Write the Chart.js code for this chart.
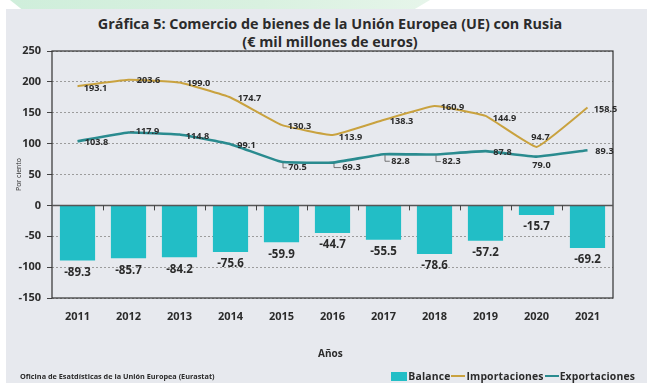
<!DOCTYPE html>
<html lang="es">
<head>
<meta charset="utf-8">
<title>Comercio de bienes UE - Rusia</title>
<script src="https://cdn.jsdelivr.net/npm/chart.js@4.4.1/dist/chart.umd.min.js"></script>
<style>
  html, body {
    margin: 0;
    padding: 0;
    width: 647px;
    height: 383px;
    overflow: hidden;
    background: #ffffff;
    font-family: "Open Sans", "Noto Sans", sans-serif;
    color: #2b2b2b;
  }
  /* soft green band along the top edge */
  .band {
    position: absolute;
    left: 10px;
    top: 0;
    width: 420px;
    height: 10px;
    background: linear-gradient(90deg, #cfeedb 0%, #d9f1e0 60%, #e6f5ea 100%);
    clip-path: polygon(0 0, 100% 0, 96% 100%, 3% 100%);
  }
  .panel {
    position: absolute;
    left: 6px;
    top: 9px;
    right: 0;
    bottom: 0;
    background: #e7e9ee;
  }
  .wrap {
    position: absolute;
    left: 0;
    top: 0;
    width: 647px;
    height: 383px;
  }
  .heading {
    position: absolute;
    left: 0;
    width: 660px;
    top: 15px;
    text-align: center;
    font-weight: 700;
    font-size: 14.4px;
    line-height: 18px;
  }
  .xtitle {
    position: absolute;
    left: 318px;
    top: 346px;
    font-weight: 700;
    font-size: 10px;
  }
  .source {
    position: absolute;
    left: 20px;
    top: 371px;
    font-weight: 700;
    font-size: 7.3px;
  }
  .legend {
    position: absolute;
    right: 12px;
    top: 369px;
    display: flex;
    align-items: center;
    font-weight: 700;
    font-size: 10.4px;
    letter-spacing: 0.15px;
    white-space: nowrap;
  }
  .legend .box {
    display: inline-block;
    width: 16px;
    height: 9px;
    margin-right: 1px;
    background: #22bec6;
  }
  .legend .line {
    display: inline-block;
    width: 14px;
    height: 2px;
    margin: 0 1px;
  }
</style>
</head>
<body>
<div class="band"></div>
<div class="panel"></div>
<div class="heading">Gráfica 5: Comercio de bienes de la Unión Europea (UE) con Rusia<br>(€ mil millones de euros)</div>
<div class="wrap"><canvas id="trade-chart" width="647" height="383"></canvas></div>
<div class="xtitle">Años</div>
<div class="source">Oficina de Esatdísticas de la Unión Europea (Eurastat)</div>
<div class="legend">
  <span class="box"></span><span>Balance</span>
  <span class="line" style="background:#c9a23f"></span><span>Importaciones</span>
  <span class="line" style="background:#2a8b8f"></span><span>Exportaciones</span>
</div>
<script>
  // Years on the horizontal axis
  const years = ['2011', '2012', '2013', '2014', '2015', '2016', '2017', '2018', '2019', '2020', '2021'];

  // Trade balance, imports and exports (€ bn)
  const balance = [-89.3, -85.7, -84.2, -75.6, -59.9, -44.7, -55.5, -78.6, -57.2, -15.7, -69.2];
  const imports = [193.1, 203.6, 199.0, 174.7, 130.3, 113.9, 138.3, 160.9, 144.9, 94.7, 158.5];
  const exports = [103.8, 117.9, 114.8, 99.1, 70.5, 69.3, 82.8, 82.3, 87.8, 79.0, 89.3];

  // Value axis range and step
  const yMin = -150;
  const yMax = 250;
  const yStep = 50;

  // Where each value label sits relative to its point (centre offset in px)
  const importLabelShift = [[18, 2], [20, 1], [19, 1], [19, 1], [18, 1], [18, 2], [18, 1], [18, 1], [19, 2], [4, -10], [18, 2]];
  const exportLabelShift = [[19, 1], [19, -1], [18, 2], [16, 1], [16, 6], [19, 5], [17, 7], [17, 7], [17, 1], [5, 9], [17, 1]];
  // Points whose label gets a little leader line
  const exportLeaders = [1, 4, 5, 6, 7];

  const COLORS = {
    bar: '#22bec6',
    imports: '#c9a23f',
    exports: '#2a8b8f',
    text: '#2b2b2b',
    frame: '#333333',
    grid: '#9c9c9c'
  };
  const FONT = '"Open Sans", "Noto Sans", sans-serif';

  /**
   * Draws the plot frame, the zero line with its small category ticks,
   * and the value labels for bars and lines.
   */
  const overlayPlugin = {
    id: 'overlay',
    afterDatasetsDraw(chart) {
      const { ctx, chartArea: a, scales } = chart;
      const y0 = scales.y.getPixelForValue(0);
      ctx.save();

      // frame around the plot area
      ctx.strokeStyle = COLORS.frame;
      ctx.lineWidth = 1.2;
      ctx.strokeRect(a.left, a.top, a.right - a.left, a.bottom - a.top);

      // zero line
      ctx.strokeStyle = '#555555';
      ctx.lineWidth = 1.5;
      ctx.beginPath();
      ctx.moveTo(a.left, y0);
      ctx.lineTo(a.right, y0);
      ctx.stroke();

      // tick marks between categories, hanging below the zero line
      ctx.lineWidth = 1;
      ctx.strokeStyle = '#444444';
      ctx.beginPath();
      for (let i = 0; i < years.length - 1; i++) {
        const x = Math.round((scales.x.getPixelForValue(i) + scales.x.getPixelForValue(i + 1)) / 2) + 0.5;
        ctx.moveTo(x, y0);
        ctx.lineTo(x, y0 + 5);
      }
      ctx.stroke();

      ctx.fillStyle = COLORS.text;
      ctx.textAlign = 'center';
      ctx.textBaseline = 'middle';

      // bar labels below the bar ends
      ctx.font = 'bold 11.5px ' + FONT;
      chart.getDatasetMeta(0).data.forEach((bar, i) => {
        ctx.fillText(balance[i].toFixed(1), bar.x, bar.y + 12);
      });

      // line labels
      ctx.font = 'bold 9.2px ' + FONT;
      chart.getDatasetMeta(1).data.forEach((pt, i) => {
        const [dx, dy] = importLabelShift[i];
        ctx.fillText(imports[i].toFixed(1), pt.x + dx, pt.y + dy);
      });
      chart.getDatasetMeta(2).data.forEach((pt, i) => {
        const [dx, dy] = exportLabelShift[i];
        const text = exports[i].toFixed(1);
        ctx.fillText(text, pt.x + dx, pt.y + dy);
        if (exportLeaders.includes(i)) {
          const left = pt.x + dx - ctx.measureText(text).width / 2 - 1.5;
          ctx.strokeStyle = '#555555';
          ctx.lineWidth = 0.8;
          ctx.beginPath();
          ctx.moveTo(pt.x + 1.5, pt.y + (dy > 0 ? 1 : -1));
          ctx.lineTo(pt.x + 1.5, pt.y + dy);
          ctx.lineTo(left, pt.y + dy);
          ctx.stroke();
        }
      });

      ctx.restore();
    }
  };

  const ctx = document.getElementById('trade-chart').getContext('2d');
  new Chart(ctx, {
    data: {
      labels: years,
      datasets: [
        {
          type: 'bar',
          label: 'Balance',
          data: balance,
          backgroundColor: COLORS.bar,
          barPercentage: 0.69,
          categoryPercentage: 1,
          order: 3
        },
        {
          type: 'line',
          label: 'Importaciones',
          data: imports,
          borderColor: COLORS.imports,
          borderWidth: 2,
          pointRadius: 0,
          tension: 0.1,
          order: 2
        },
        {
          type: 'line',
          label: 'Exportaciones',
          data: exports,
          borderColor: COLORS.exports,
          borderWidth: 2.6,
          pointRadius: 0,
          tension: 0.1,
          order: 1
        }
      ]
    },
    options: {
      responsive: false,
      animation: false,
      devicePixelRatio: 1,
      layout: {
        padding: { top: 51, right: 34, left: 0, bottom: 0 }
      },
      plugins: {
        legend: { display: false },
        tooltip: { enabled: false },
        title: { display: false }
      },
      scales: {
        x: {
          grid: { display: false, drawTicks: false },
          border: { display: false },
          ticks: {
            color: COLORS.text,
            padding: 12,
            maxRotation: 0,
            font: { family: FONT, size: 11, weight: 'bold' }
          },
          afterFit(scale) {
            scale.height = 85;
          }
        },
        y: {
          min: yMin,
          max: yMax,
          ticks: {
            stepSize: yStep,
            color: COLORS.text,
            padding: 6,
            font: { family: FONT, size: 11, weight: 'bold' }
          },
          grid: {
            color: c => (c.tick && c.tick.value === 0 ? 'rgba(0,0,0,0)' : COLORS.grid),
            lineWidth: 1,
            tickColor: '#444444',
            tickLength: 5
          },
          border: { display: false, dash: [2, 2] },
          title: {
            display: true,
            text: 'Por ciento',
            color: COLORS.text,
            padding: { top: 15, bottom: 0 },
            font: { family: FONT, size: 7, weight: 'normal' }
          },
          afterFit(scale) {
            scale.width = 52;
          }
        }
      }
    },
    plugins: [overlayPlugin]
  });
</script>
</body>
</html>
